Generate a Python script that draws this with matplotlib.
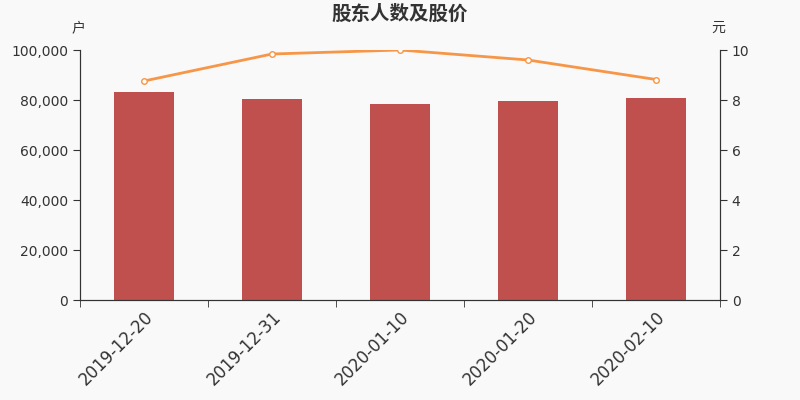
import matplotlib
matplotlib.use("Agg")
import matplotlib.pyplot as plt
import numpy as np

plt.rcParams['font.family'] = ['DejaVu Sans', 'Noto Sans CJK SC']

categories = ["2019-12-20", "2019-12-31", "2020-01-10", "2020-01-20", "2020-02-10"]
holders = [83400, 80400, 78400, 79600, 81000]
price = [8.76, 9.84, 10.0, 9.6, 8.82]

bg = "#f9f9f9"
fig = plt.figure(figsize=(8, 4), dpi=100, facecolor=bg)
ax = fig.add_axes([0.1, 0.25, 0.8, 0.625], facecolor=bg)
x = np.arange(len(categories))
ax.bar(x, holders, width=0.47, color="#c0504d", zorder=2)
ax.set_xlim(-0.5, len(categories) - 0.5)
ax.set_ylim(0, 100000)
ax.set_yticks(np.arange(0, 100001, 20000))
ax.set_yticklabels([f"{v:,}" for v in range(0, 100001, 20000)], fontsize=10, color="#333333")
ax.set_xticks(x)
ax.set_xticklabels(categories, rotation=45, ha="right", rotation_mode="anchor", fontsize=12, color="#333333")
ax.set_xticks(np.arange(-0.5, len(categories)), minor=True)
ax.tick_params(axis='x', which='major', length=0, pad=6)
ax.tick_params(axis='x', which='minor', length=5, color="#333333")
ax.tick_params(axis='y', length=5, color="#333333")
for s in ['top']:
    ax.spines[s].set_visible(False)
for s in ['left', 'right', 'bottom']:
    ax.spines[s].set_color("#333333")

ax2 = ax.twinx()
ax2.plot(x, price, color="#f79646", linewidth=2, marker="o", markersize=4,
         markerfacecolor="white", markeredgecolor="#f79646", markeredgewidth=1, zorder=3)
ax2.set_ylim(0, 10)
ax2.set_yticks(np.arange(0, 11, 2))
ax2.tick_params(axis='y', length=5, color="#333333", labelsize=10, labelcolor="#333333")
ax2.spines['top'].set_visible(False)
for s in ['left', 'right', 'bottom']:
    ax2.spines[s].set_color("#333333")

fig.text(0.5, 0.965, "股东人数及股价", ha="center", va="center", fontsize=14,
         fontweight="bold", color="#333333", family=['Noto Sans CJK SC', 'DejaVu Sans'])
fig.text(78/800, 1 - 28/400, "户", ha="center", va="center", fontsize=10, color="#333333",
         family=['Noto Sans CJK SC', 'DejaVu Sans'])
fig.text(718/800, 1 - 28/400, "元", ha="center", va="center", fontsize=10, color="#333333",
         family=['Noto Sans CJK SC', 'DejaVu Sans'])

fig.savefig("out.png", dpi=100, facecolor=bg)
